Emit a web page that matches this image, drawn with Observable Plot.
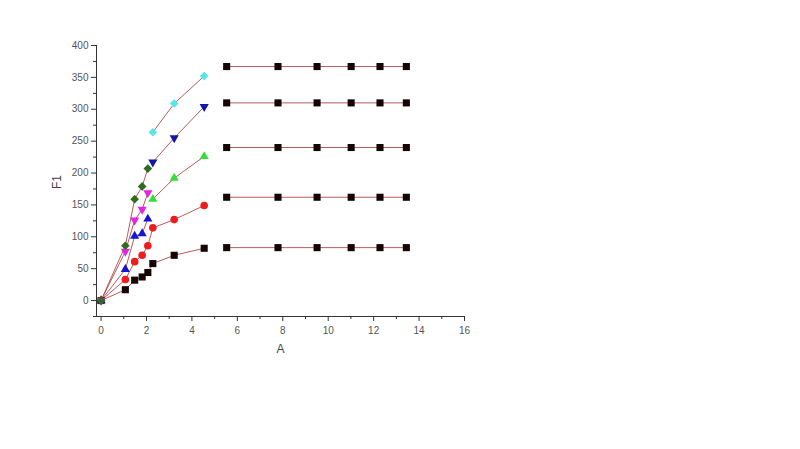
<!DOCTYPE html>
<html>
<head>
<meta charset="utf-8">
<script src="https://cdn.jsdelivr.net/npm/d3@7"></script>
<script src="https://cdn.jsdelivr.net/npm/@observablehq/plot@0.6"></script>
<style>
  html, body { margin: 0; padding: 0; background: #fff; }
  #chart { width: 800px; height: 449px; }
</style>
</head>
<body>
<div id="chart"></div>
<script>
// ---- data ----
const xLeft = [0, 1.07, 1.48, 1.81, 2.06];
const xMid = [2.28, 3.22, 4.54];
const xFlat = [5.53, 7.79, 9.51, 11.01, 12.28, 13.44];

const blackY = [0, 17, 32, 37, 44, 58, 71, 82];
const redY = [0, 33, 61, 71, 86, 114, 127, 149];
const blueY = [0, 49, 101, 105, 128];
const magentaY = [0, 77, 126, 143, 169];
const darkGreenY = [0, 86, 159, 179, 207];
const greenY = [159, 192, 226];
const navyY = [217, 255, 304];
const cyanY = [264, 309, 352];
const flatLevels = [83, 162, 240, 310, 367];

const xTicks = [0, 2, 4, 6, 8, 10, 12, 14, 16];
const xMinorTicks = [1, 3, 5, 7, 9, 11, 13, 15];
const yTicks = [0, 50, 100, 150, 200, 250, 300, 350, 400];
const yMinorTicks = [-25, 25, 75, 125, 175, 225, 275, 325, 375];
const xDomain = [-0.2, 16];
const yDomain = [-25, 400];

// downward-pointing triangle symbol
const sqrt3 = Math.sqrt(3);
const triangleDown = {
  draw(context, size) {
    const y = -Math.sqrt(size / (sqrt3 * 3));
    context.moveTo(0, -y * 2);
    context.lineTo(-sqrt3 * y, y);
    context.lineTo(sqrt3 * y, y);
    context.closePath();
  }
};

// ---- build series ----
const series = [
  {name: "black", xs: xLeft.concat(xMid), ys: blackY, symbol: "square", color: "#140404"},
  {name: "red", xs: xLeft.concat(xMid), ys: redY, symbol: "circle", color: "#ee1c1c"},
  {name: "blue", xs: xLeft, ys: blueY, symbol: "triangle", color: "#1414d2"},
  {name: "magenta", xs: xLeft, ys: magentaY, symbol: triangleDown, color: "#e424e4"},
  {name: "green", xs: xMid, ys: greenY, symbol: "triangle", color: "#38dc38"},
  {name: "navy", xs: xMid, ys: navyY, symbol: triangleDown, color: "#1616a6"},
  {name: "cyan", xs: xMid, ys: cyanY, symbol: "diamond2", color: "#58e6e6"},
  {name: "darkgreen", xs: xLeft, ys: darkGreenY, symbol: "diamond2", color: "#2f6c1c"}
];
flatLevels.forEach((v, i) => series.push({
  name: "flat" + i, xs: xFlat, ys: xFlat.map(() => v), symbol: "square", color: "#140404"
}));

const rows = [];
for (const s of series) {
  s.xs.forEach((x, i) => rows.push({series: s.name, x, y: s.ys[i]}));
}

const font = "'Liberation Sans', Arial, sans-serif";
const tickColor = "#555";

const sizeFor = sym => sym === "square" ? 4.0 : sym === "circle" ? 3.8 : sym === "diamond2" ? 3.9 : 3.4;

const marks = [
  Plot.line(rows, {x: "x", y: "y", z: "series", stroke: "#b04848", strokeWidth: 0.9})
];
for (const s of series) {
  marks.push(Plot.dot(rows.filter(d => d.series === s.name), {
    x: "x", y: "y", symbol: s.symbol, fill: s.color, r: sizeFor(s.symbol)
  }));
}
marks.push(
  Plot.ruleX([xDomain[0]], {stroke: "#333", strokeWidth: 1}),
  Plot.ruleY([yDomain[0]], {stroke: "#333", strokeWidth: 1}),
  Plot.axisX({ticks: xTicks, tickSize: 5, tickPadding: 5, stroke: "#333", fill: tickColor, fontSize: 10, label: null}),
  Plot.axisX({ticks: xMinorTicks, tickSize: 3, tickFormat: () => "", stroke: "#333", label: null}),
  Plot.axisY({ticks: yTicks, tickSize: 5, tickPadding: 3, stroke: "#333", fill: tickColor, fontSize: 10, label: null}),
  Plot.axisY({ticks: yMinorTicks, tickSize: 3, tickFormat: () => "", stroke: "#333", label: null}),
  Plot.text(["A"], {frameAnchor: "bottom", dy: 36, fontSize: 12, fill: "#444"}),
  Plot.text(["F1"], {frameAnchor: "left", dx: -39, dy: 8, rotate: -90, fontSize: 12, fill: "#444"})
);

const chart = Plot.plot({
  width: 800,
  height: 449,
  marginLeft: 96,
  marginRight: 336,
  marginTop: 45,
  marginBottom: 133,
  style: {fontFamily: font, background: "#fff", overflow: "visible"},
  x: {domain: xDomain},
  y: {domain: yDomain},
  marks
});
document.getElementById("chart").appendChild(chart);
</script>
</body>
</html>
